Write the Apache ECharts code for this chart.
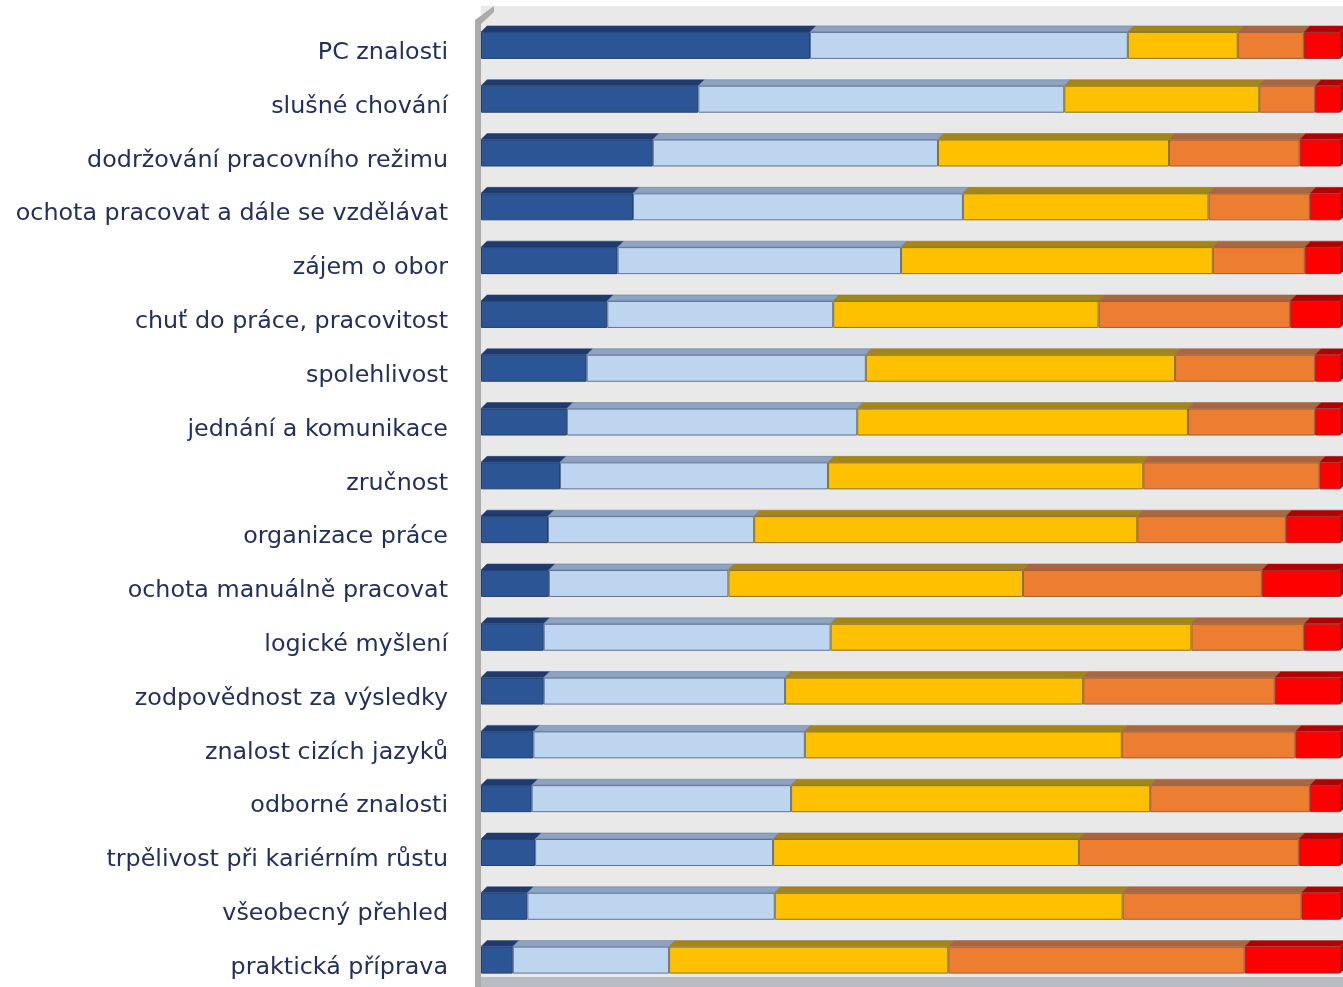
<!DOCTYPE html>
<html>
<head>
<meta charset="utf-8">
<script src="https://cdn.jsdelivr.net/npm/echarts@6/dist/echarts.min.js"></script>
<style>
html,body{margin:0;padding:0;background:#fff;}
#chart{width:1343px;height:987px;}
</style>
</head>
<body>
<div id="chart"></div>
<script>
const categories = [
  'PC znalosti',
  'slušné chování',
  'dodržování pracovního režimu',
  'ochota pracovat a dále se vzdělávat',
  'zájem o obor',
  'chuť do práce, pracovitost',
  'spolehlivost',
  'jednání a komunikace',
  'zručnost',
  'organizace práce',
  'ochota manuálně pracovat',
  'logické myšlení',
  'zodpovědnost za výsledky',
  'znalost cizích jazyků',
  'odborné znalosti',
  'trpělivost při kariérním růstu',
  'všeobecný přehled',
  'praktická příprava'
];
const s1 = [38.3, 25.3, 20.0, 17.7, 15.9, 14.7, 12.3, 10.0, 9.2, 7.8, 7.9, 7.3, 7.3, 6.1, 5.9, 6.3, 5.4, 3.7];
const s2 = [37.0, 42.6, 33.2, 38.4, 33.0, 26.3, 32.5, 33.8, 31.2, 24.0, 20.9, 33.4, 28.1, 31.6, 30.2, 27.7, 28.8, 18.2];
const s3 = [12.8, 22.7, 26.9, 28.6, 36.3, 30.9, 36.0, 38.5, 36.7, 44.6, 34.3, 42.0, 34.7, 36.9, 41.8, 35.6, 40.5, 32.5];
const s4 = [7.7, 6.5, 15.2, 11.8, 10.7, 22.3, 16.3, 14.8, 20.5, 17.3, 27.8, 13.1, 22.3, 20.2, 18.6, 25.6, 20.8, 34.5];
const s5 = [4.2, 2.9, 4.7, 3.5, 4.1, 5.8, 2.9, 2.9, 2.4, 6.3, 9.1, 4.2, 7.6, 5.2, 3.5, 4.8, 4.5, 11.1];
const seriesNames = ['1', '2', '3', '4', '5'];

const allSeries = [s1, s2, s3, s4, s5];
const frontColors = ['#2c5596', '#bdd5ee', '#ffc000', '#ed7d31', '#ff0000'];
const topColors = ['#1e3a6e', '#8ea3bf', '#a3851a', '#aa6640', '#b00000'];
const borderColors = ['#22406f', '#5f7394', '#8a7420', '#9c5f3a', '#a02828'];
const BAR_W = 27, DX = 6, DY = 6;

const chart = echarts.init(document.getElementById('chart'), null, {renderer: 'canvas'});

const barSeries = allSeries.map((arr, j) => ({
  name: seriesNames[j],
  type: 'bar',
  stack: 'total',
  barWidth: BAR_W,
  data: arr,
  itemStyle: {color: frontColors[j], borderColor: borderColors[j], borderWidth: 1},
  emphasis: {disabled: true},
  z: 3
}));

const topSeries = {
  type: 'custom',
  z: 2,
  clip: false,
  data: categories.map((c, i) => [0, i]),
  encode: {x: 0, y: 1},
  renderItem: function (params, api) {
    const idx = api.value(1);
    const yc = api.coord([0, idx])[1];
    const top = yc - BAR_W / 2;
    const bottom = yc + BAR_W / 2;
    const children = [];
    let cum = 0;
    for (let j = 0; j < allSeries.length; j++) {
      const v = allSeries[j][idx];
      const x0 = api.coord([cum, idx])[0];
      const x1 = api.coord([cum + v, idx])[0];
      children.push({
        type: 'polygon',
        shape: {points: [[x0, top], [x1, top], [x1 + DX, top - DY], [x0 + DX, top - DY]]},
        style: {fill: topColors[j], stroke: borderColors[j], lineWidth: 0.5}
      });
      if (j === allSeries.length - 1) {
        children.push({
          type: 'polygon',
          shape: {points: [[x1, top], [x1 + DX, top - DY], [x1 + DX, bottom - DY], [x1, bottom]]},
          style: {fill: '#c00000'}
        });
      }
      cum += v;
    }
    return {type: 'group', children: children};
  }
};

const option = {
  backgroundColor: '#ffffff',
  animation: false,
  graphic: [
    {type: 'rect', z: -10, shape: {x: 481, y: 6, width: 862, height: 975}, style: {fill: '#e9e9e9'}},
    {type: 'polygon', z: -9, shape: {points: [[475, 20], [494, 6], [494, 12], [481, 24], [481, 987], [475, 987]]}, style: {fill: '#ababab'}},
    {type: 'rect', z: -9, shape: {x: 481, y: 977, width: 862, height: 10}, style: {fill: '#b9bcc2'}}
  ],
  grid: {left: 481, right: 3, top: 18.5, height: 970, containLabel: false},
  xAxis: {
    type: 'value', min: 0, max: 100,
    show: false
  },
  yAxis: {
    type: 'category',
    inverse: true,
    data: categories,
    axisLine: {show: false},
    axisTick: {show: false},
    splitLine: {show: false},
    axisLabel: {
      margin: 33,
      fontFamily: 'DejaVu Sans',
      fontSize: 23.8,
      color: '#24305c',
      verticalAlign: 'top',
      lineHeight: 15
    }
  },
  series: [...barSeries, topSeries]
};
chart.setOption(option);
</script>
</body>
</html>
